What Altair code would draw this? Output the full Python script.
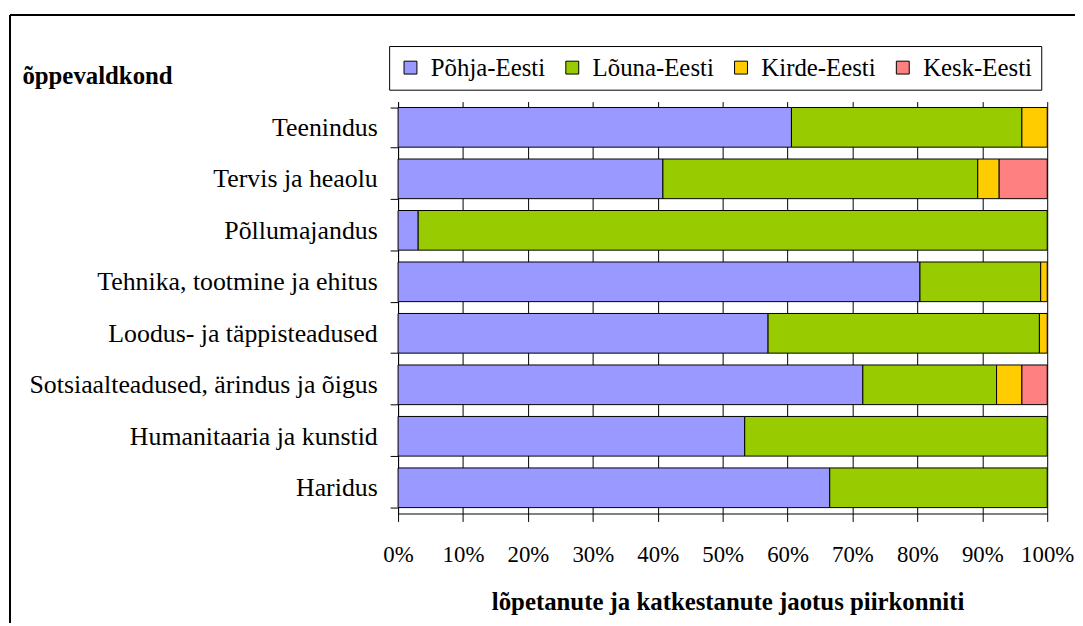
import altair as alt
import pandas as pd

categories = [
    "Teenindus",
    "Tervis ja heaolu",
    "Põllumajandus",
    "Tehnika, tootmine ja ehitus",
    "Loodus- ja täppisteadused",
    "Sotsiaalteadused, ärindus ja õigus",
    "Humanitaaria ja kunstid",
    "Haridus",
]
regions = ["Põhja-Eesti", "Lõuna-Eesti", "Kirde-Eesti", "Kesk-Eesti"]
colors = ["#9999FF", "#99CC00", "#FFCC00", "#FF8080"]

pohja = [60.6, 40.8, 3.1, 80.4, 57.0, 71.6, 53.4, 66.5]
louna = [35.5, 48.5, 96.9, 18.6, 41.8, 20.6, 46.6, 33.5]
kirde = [3.9, 3.3, 0.0, 1.0, 1.2, 3.9, 0.0, 0.0]
kesk = [0.0, 7.4, 0.0, 0.0, 0.0, 3.9, 0.0, 0.0]

series = [pohja, louna, kirde, kesk]
rows = []
for ri, (reg, vals) in enumerate(zip(regions, series)):
    for cat, v in zip(categories, vals):
        if v > 0:
            rows.append({"valdkond": cat, "piirkond": reg, "osa": v / 100.0, "jrk": ri})
df = pd.DataFrame(rows)

FONT = "Liberation Serif"

bars = alt.Chart(df).mark_bar(stroke="black", strokeWidth=1).encode(
    y=alt.Y(
        "valdkond:N",
        sort=categories,
        scale=alt.Scale(paddingInner=0.23, paddingOuter=0.115),
        axis=alt.Axis(
            title="õppevaldkond",
            titleAngle=0,
            titleAlign="left",
            titleBaseline="alphabetic",
            titleX=-379,
            titleY=-18,
            titleFont=FONT,
            titleFontSize=25,
            titleFontWeight="bold",
            titleColor="black",
            labelFont=FONT,
            labelFontSize=26,
            labelColor="black",
            labelPadding=13,
            labelLimit=400,
            tickBand="extent",
            tickSize=8,
            tickColor="black",
            domainColor="black",
            grid=False,
        ),
    ),
    x=alt.X(
        "osa:Q",
        stack="zero",
        scale=alt.Scale(domain=[0, 1]),
        axis=alt.Axis(
            title="lõpetanute ja katkestanute jaotus piirkonniti",
            format=".0%",
            values=[i / 10 for i in range(11)],
            labelOverlap=False,
            labelFlush=False,
            labelFont=FONT,
            labelFontSize=23,
            labelColor="black",
            labelBaseline="alphabetic",
            labelPadding=40,
            tickSize=8,
            tickColor="black",
            domainColor="black",
            grid=True,
            gridColor="black",
            gridWidth=1,
            titleFont=FONT,
            titleFontSize=25,
            titleFontWeight="bold",
            titleColor="black",
            titleBaseline="alphabetic",
            titleAlign="center",
            titleX=332,
            titleY=97,
        ),
    ),
    color=alt.Color(
        "piirkond:N",
        scale=alt.Scale(domain=regions, range=colors),
        sort=regions,
        legend=alt.Legend(
            title=None,
            orient="none",
            legendX=-9,
            legendY=-56,
            direction="horizontal",
            strokeColor="black",
            padding=9,
            symbolType="square",
            symbolSize=169,
            symbolStrokeColor="black",
            symbolStrokeWidth=1,
            symbolOpacity=1,
            labelFont=FONT,
            labelFontSize=25,
            labelColor="black",
            labelOffset=8,
            columnPadding=14,
        ),
    ),
    order=alt.Order("jrk:Q", sort="ascending"),
)

frame = alt.Chart(df).mark_rect(filled=False, stroke="black", strokeWidth=1).encode(
    x=alt.value(-391),
    x2=alt.value(720),
    y=alt.value(-87),
    y2=alt.value(560),
)

chart = alt.layer(frame, bars).properties(
    width=654,
    height=415,
    autosize=alt.AutoSizeParams(type="none"),
    padding={"left": 393, "top": 92, "right": 28, "bottom": 108},
    background="white",
).configure(font=FONT).configure_view(stroke=None).configure_axis(
    labelFont=FONT, titleFont=FONT
).configure_legend(labelFont=FONT, titleFont=FONT)

chart.save("out.html", embed_options={"renderer": "svg", "actions": False})
